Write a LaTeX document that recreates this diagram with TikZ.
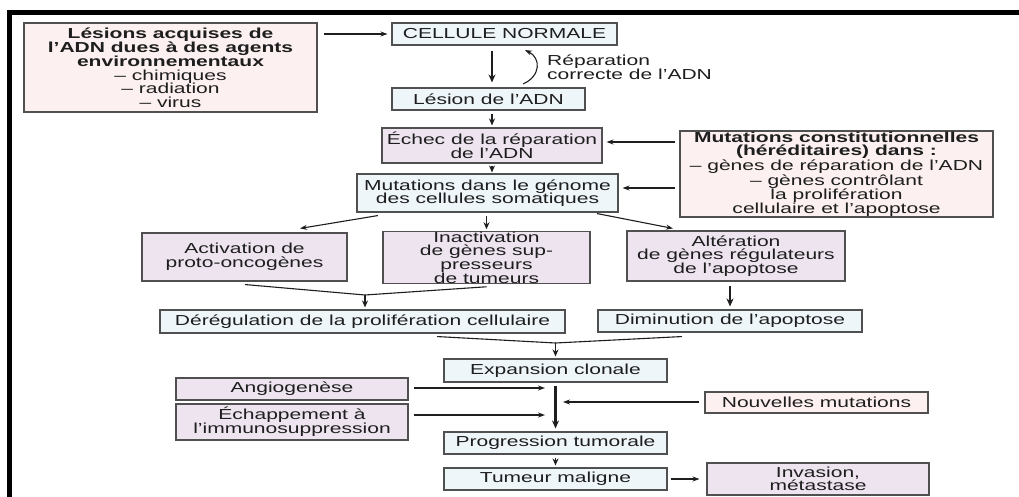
\documentclass[tikz,border=0pt]{standalone}
\usepackage{fontspec}
\setmainfont{Liberation Sans}[FakeStretch=1.45]
\usetikzlibrary{arrows.meta}
\definecolor{pinkf}{RGB}{252,241,240}
\definecolor{bluef}{RGB}{238,246,250}
\definecolor{lavf}{RGB}{237,228,240}
\definecolor{edge}{RGB}{80,80,80}
\definecolor{ink}{RGB}{30,30,30}
\begin{document}
\begin{tikzpicture}[x=1pt,y=-1pt,
  box/.style={draw=edge, line width=1.1pt, inner sep=0pt, align=center, text=ink,
    font=\fontsize{14.5}{13.6}\selectfont},
  pinkbox/.style={box, fill=pinkf},
  bluebox/.style={box, fill=bluef},
  lavbox/.style={box, fill=lavf},
  arr/.style={draw=ink, line width=1.1pt, -{Stealth[length=7pt,width=5pt]}},
  midarr/.style={draw=ink, line width=1.6pt, -{Stealth[length=7pt,width=6pt]}},
  thickarr/.style={draw=ink, line width=2.2pt, -{Stealth[length=8pt,width=7pt]}},
  link/.style={draw=ink, line width=1.1pt},
  lbl/.style={anchor=west, align=left, text=ink, inner sep=0pt, font=\fontsize{14.5}{13.6}\selectfont},
]
\useasboundingbox (0,0) rectangle (1019,497);
\fill[white] (0,0) rectangle (1019,497);
% frame
\draw[line width=4.5pt, black] (9.5,497) -- (9.5,12.5) -- (1019,12.5);

% nodes
\node[pinkbox, minimum width=293pt, minimum height=89pt] (lesions) at (170.5,67.5)
  {\textbf{Lésions acquises de}\\\textbf{l’ADN dues à des agents}\\\textbf{environnementaux}\\– chimiques\\– radiation\\– virus};
\node[bluebox, minimum width=225pt, minimum height=22pt] (normale) at (504.5,34) {CELLULE NORMALE};
\node[bluebox, minimum width=193pt, minimum height=22pt] (lesion) at (488.5,99) {Lésion de l’ADN};
\node[lavbox, minimum width=220pt, minimum height=35pt] (echec) at (492,145.5) {Échec de la réparation\\de l’ADN};
\node[pinkbox, minimum width=313pt, minimum height=86pt] (const) at (836.5,174)
  {\textbf{Mutations constitutionnelles}\\\textbf{(héréditaires) dans :}\\– gènes de réparation de l’ADN\\– gènes contrôlant\\la prolifération\\cellulaire et l’apoptose};
\node[bluebox, minimum width=261pt, minimum height=38pt] (somat) at (487.5,193) {Mutations dans le génome\\des cellules somatiques};
\node[lavbox, minimum width=205pt, minimum height=48pt] (activ) at (244.5,257) {Activation de\\proto-oncogènes};
\node[lavbox, minimum width=207pt, minimum height=51pt] (inact) at (486.5,257.5) {Inactivation\\de gènes sup-\\presseurs\\de tumeurs};
\node[lavbox, minimum width=218pt, minimum height=50pt] (alter) at (736,256) {Altération\\de gènes régulateurs\\de l’apoptose};
\node[bluebox, minimum width=405pt, minimum height=23pt] (dereg) at (362.5,321.5) {Dérégulation de la prolifération cellulaire};
\node[bluebox, minimum width=264pt, minimum height=22pt] (dimin) at (730,321) {Diminution de l’apoptose};
\node[bluebox, minimum width=223pt, minimum height=23pt] (expan) at (555.5,370.5) {Expansion clonale};
\node[lavbox, minimum width=232pt, minimum height=22pt] (angio) at (292,389) {Angiogenèse};
\node[lavbox, minimum width=232pt, minimum height=36pt] (echap) at (292,422) {Échappement à\\l’immunosuppression};
\node[pinkbox, minimum width=223pt, minimum height=21pt] (nouv) at (816.5,402.5) {Nouvelles mutations};
\node[bluebox, minimum width=223pt, minimum height=22pt] (progr) at (555.5,443) {Progression tumorale};
\node[bluebox, minimum width=223pt, minimum height=22pt] (tumeur) at (555.5,479) {Tumeur maligne};
\node[lavbox, minimum width=222pt, minimum height=32pt] (invas) at (818,479) {Invasion,\\métastase};

\node[lbl] (rep) at (547,67) {Réparation\\correcte de l’ADN};

% helper coordinates
\coordinate (rb) at (523,84);
\coordinate (rt) at (525,50);
\coordinate (m1) at (365,295);
\coordinate (m2) at (555.5,343);
\coordinate (ja) at (545,388);
\coordinate (jb) at (545,415);
\coordinate (jc) at (563,402);

% connectors
\draw[arr, shorten <=6pt, shorten >=4pt] (lesions.east |- normale.west) -- (normale.west);
\draw[thickarr, shorten <=5pt, shorten >=5pt] (normale.south -| echec.north) -- (lesion.north -| echec.north);
\draw[arr] (rb) .. controls (541,76) and (541,58) .. (rt);
\draw[midarr, shorten <=3pt, shorten >=2pt] (lesion.south -| echec.north) -- (echec.north);
\draw[arr, shorten <=4pt, shorten >=4pt] ([yshift=3.5pt]const.west |- echec.east) -- ([yshift=3.5pt]echec.east);
\draw[arr, shorten <=4pt, shorten >=4pt] ([yshift=5pt]const.west |- somat.east) -- ([yshift=5pt]somat.east);
\draw[midarr, shorten <=2pt, shorten >=1pt] (echec.south) -- (echec.south |- somat.north);
\draw[midarr, shorten <=3pt, shorten >=2pt] (somat.south -| inact.north) -- (inact.north);
\draw[arr] ([xshift=-109.5pt,yshift=-3pt]somat.south) -- ([xshift=55.5pt,yshift=4pt]activ.north);
\draw[arr] ([xshift=109.5pt,yshift=-1pt]somat.south) -- ([xshift=-63pt,yshift=2pt]alter.north);
\draw[link] ([xshift=0.5pt,yshift=-3pt]activ.south) -- (m1);
\draw[link] ([yshift=-3pt]inact.south) -- (m1);
\draw[midarr] (m1) -- ([xshift=2.5pt,yshift=2pt]dereg.north);
\draw[thickarr, shorten <=4pt, shorten >=3pt] (alter.south -| dimin.north) -- (dimin.north);
\draw[link] ([xshift=74.5pt,yshift=-3pt]dereg.south) -- (m2);
\draw[link] ([xshift=-48pt,yshift=-4pt]dimin.south) -- (m2);
\draw[midarr] (m2) -- ([yshift=2pt]expan.north);
\draw[thickarr, shorten <=3pt, shorten >=3pt] (expan.south) -- (progr.north);
\draw[arr, shorten <=5pt] (angio.east |- ja) -- (ja);
\draw[arr, shorten <=5pt] (echap.east |- jb) -- (jb);
\draw[arr, shorten <=5pt] (nouv.west |- jc) -- (jc);
\draw[midarr, shorten <=3pt, shorten >=2pt] (progr.south) -- (tumeur.north);
\draw[arr, shorten <=3pt, shorten >=7pt] (tumeur.east) -- (invas.west);
\end{tikzpicture}
\end{document}
